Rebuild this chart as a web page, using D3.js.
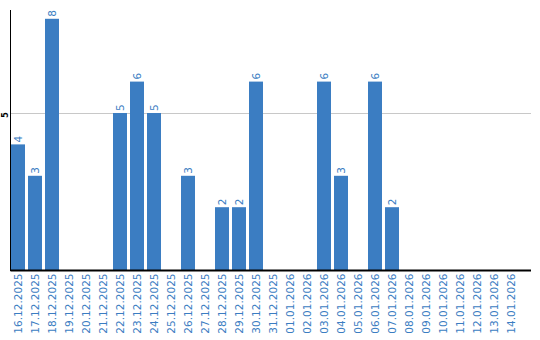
<!DOCTYPE html>
<html>
<head>
<meta charset="utf-8">
<script src="https://cdn.jsdelivr.net/npm/d3@7"></script>
<style>
  html, body { margin: 0; padding: 0; background: #fff; }
  svg { display: block; }
</style>
</head>
<body>
<svg id="chart" width="540" height="340"></svg>
<script>
const dates = ["16.12.2025","17.12.2025","18.12.2025","19.12.2025","20.12.2025","21.12.2025","22.12.2025","23.12.2025","24.12.2025","25.12.2025","26.12.2025","27.12.2025","28.12.2025","29.12.2025","30.12.2025","31.12.2025","01.01.2026","02.01.2026","03.01.2026","04.01.2026","05.01.2026","06.01.2026","07.01.2026","08.01.2026","09.01.2026","10.01.2026","11.01.2026","12.01.2026","13.01.2026","14.01.2026"];
const counts = [4,3,8,0,0,0,5,6,5,0,3,0,2,2,6,0,0,0,6,3,0,6,2,0,0,0,0,0,0,0];
const yTicks = [5];

(function () {
const blue = "#3b7dc2";
const svg = d3.select("#chart");
const mLeft = 10.5, mRight = 531, mTop = 10, mBottom = 270;

const x = d3.scaleBand().domain(dates).range([9.5, 519.5])
  .paddingInner(3/17).paddingOuter(1.5/17);
const y = d3.scaleLinear().domain([0, 8.28]).range([mBottom, mTop]);

// grid line
svg.append("g").selectAll("line").data(yTicks).join("line")
  .attr("x1", mLeft + 0.5).attr("x2", mRight)
  .attr("y1", d => Math.round(y(d)) + 0.5).attr("y2", d => Math.round(y(d)) + 0.5)
  .attr("stroke", "#c8c8c8").attr("stroke-width", 1);

// bars
const data = dates.map((d, i) => ({date: d, v: counts[i]}));
svg.append("g").selectAll("rect").data(data.filter(d => d.v > 0)).join("rect")
  .attr("x", d => x(d.date)).attr("width", x.bandwidth())
  .attr("y", d => y(d.v)).attr("height", d => mBottom - y(d.v))
  .attr("fill", blue);

// value labels
svg.append("g").selectAll("text").data(data.filter(d => d.v > 0)).join("text")
  .attr("transform", d => `translate(${x(d.date) + x.bandwidth()/2 + 4},${y(d.v) - 2}) rotate(-90)`)
  .attr("font-family", "DejaVu Sans").attr("font-size", 10.5)
  .attr("fill", blue).text(d => d.v);

// axes lines
svg.append("line").attr("x1", mLeft).attr("x2", mLeft).attr("y1", mTop).attr("y2", mBottom + 1)
  .attr("stroke", "#000").attr("stroke-width", 1);
svg.append("line").attr("x1", mLeft).attr("x2", mRight).attr("y1", mBottom + 0.5).attr("y2", mBottom + 0.5)
  .attr("stroke", "#000").attr("stroke-width", 2);

// y tick labels
svg.append("g").selectAll("text").data(yTicks).join("text")
  .attr("transform", d => `translate(7.5,${y(d) + 2}) rotate(-90)`)
  .attr("text-anchor", "middle")
  .attr("font-family", "DejaVu Sans").attr("font-size", 8).attr("font-weight", "bold")
  .attr("fill", "#000").text(d => d);

// x tick labels
svg.append("g").selectAll("text").data(dates).join("text")
  .attr("transform", d => `translate(${x(d) + x.bandwidth()/2 + 4},${mBottom + 3.5}) rotate(-90)`)
  .attr("text-anchor", "end")
  .attr("font-family", "DejaVu Sans").attr("font-size", 10.5)
  .attr("fill", blue).text(d => d);
})();
</script>
</body>
</html>
